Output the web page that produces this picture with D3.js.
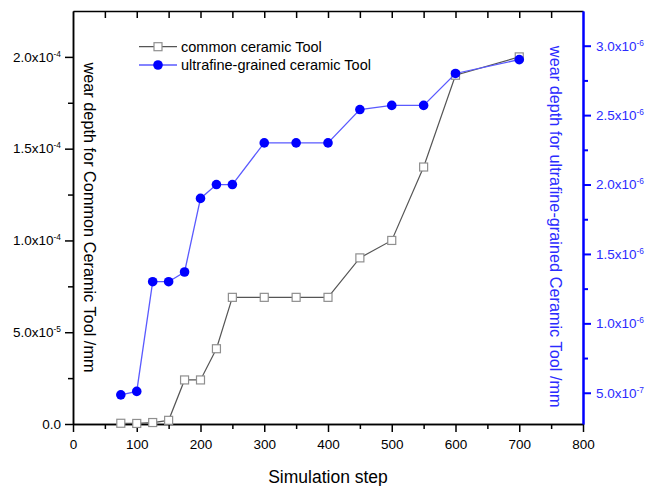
<!DOCTYPE html>
<html><head><meta charset="utf-8">
<script src="https://cdn.jsdelivr.net/npm/d3@7"></script>
<style>body{margin:0;background:#fff} text{font-family:"Liberation Sans",Arial,sans-serif}</style>
</head><body><svg id="c" width="661" height="486"></svg>
<script>
const steps = [75,100,125,150,175,200,225,250,300,350,400,450,500,550,600,700];
const commonWear = [0.4e-6,0.3e-6,0.8e-6,2.0e-6,2.4e-5,2.4e-5,4.1e-5,6.9e-5,6.9e-5,6.9e-5,6.9e-5,9.05e-5,1.0e-4,1.4e-4,1.9e-4,2.0e-4];
const ultrafineWear = [4.85e-7,5.1e-7,1.3e-6,1.3e-6,1.37e-6,1.9e-6,2.0e-6,2.0e-6,2.3e-6,2.3e-6,2.3e-6,2.54e-6,2.57e-6,2.57e-6,2.8e-6,2.9e-6];
const xTicks = [0,100,200,300,400,500,600,700,800];
const xMinor = [50,150,250,350,450,550,650,750];
const leftTicks = [0,5e-5,1e-4,1.5e-4,2e-4];
const leftTickLabels = ["0.0","5.0x10^-5","1.0x10^-4","1.5x10^-4","2.0x10^-4"];
const leftMinor = [2.5e-5,7.5e-5,1.25e-4,1.75e-4];
const rightTicks = [5e-7,1e-6,1.5e-6,2e-6,2.5e-6,3e-6];
const rightTickLabels = ["5.0x10^-7","1.0x10^-6","1.5x10^-6","2.0x10^-6","2.5x10^-6","3.0x10^-6"];
const rightMinor = [7.5e-7,1.25e-6,1.75e-6,2.25e-6,2.75e-6];
const seriesNames = ["common ceramic Tool","ultrafine-grained ceramic Tool"];
const xTitle = "Simulation step";
const leftTitle = "wear depth for Common Ceramic Tool /mm";
const rightTitle = "wear depth for ultrafine-grained Ceramic Tool /mm";

const L=73,R=583,T=11,B=424;
const svg = d3.select("#c");
svg.append("rect").attr("width",661).attr("height",486).attr("fill","#fff");
const x = d3.scaleLinear().domain([0,800]).range([L,R]);
const yL = d3.scaleLinear().domain([0,2.25e-4]).range([B,T]);
const yR = d3.scaleLinear().domain([2.75e-7,3.25e-6]).range([B,T]);

function style(g,color,w){
  g.selectAll("path,line").attr("stroke",color).attr("stroke-width",w);
  g.selectAll("text").attr("fill",color).attr("font-size","13.5px").attr("font-family",'"Liberation Sans",Arial,sans-serif');
}
function sup(g,labels){
  g.selectAll(".tick text").each(function(d,i){
    const t=d3.select(this); const p=labels[i].split("^");
    t.text(p[0]);
    if(p[1]) t.append("tspan").attr("dy","-0.6em").attr("font-size","0.62em").text(p[1]);
  });
}

// minor ticks
const gxm = svg.append("g").attr("transform",`translate(0,${B})`)
  .call(d3.axisBottom(x).tickValues(xMinor).tickSize(5).tickFormat("").tickSizeOuter(0));
style(gxm,"#000",1.5);
const gtop = svg.append("g").attr("transform",`translate(0,${T})`)
  .call(d3.axisTop(x).tickValues(xMinor.concat(xTicks.slice(1,-1))).tickSize(-7).tickFormat("").tickSizeOuter(0));
style(gtop,"#000",1.5);
const glm = svg.append("g").attr("transform",`translate(${L},0)`)
  .call(d3.axisLeft(yL).tickValues(leftMinor).tickSize(5).tickFormat("").tickSizeOuter(0));
style(glm,"#000",1.5);
const grm = svg.append("g").attr("transform",`translate(${R},0)`)
  .call(d3.axisRight(yR).tickValues(rightMinor).tickSize(5).tickFormat("").tickSizeOuter(0));
style(grm,"#0000ff",2);

// major axes
const gx = svg.append("g").attr("transform",`translate(0,${B})`)
  .call(d3.axisBottom(x).tickValues(xTicks).tickSize(8).tickPadding(7).tickFormat(d3.format("d")).tickSizeOuter(0));
style(gx,"#000",1.5);
const gl = svg.append("g").attr("transform",`translate(${L},0)`)
  .call(d3.axisLeft(yL).tickValues(leftTicks).tickSize(8).tickPadding(4).tickSizeOuter(0));
style(gl,"#000",1.5); sup(gl,leftTickLabels);
const gr = svg.append("g").attr("transform",`translate(${R},0)`)
  .call(d3.axisRight(yR).tickValues(rightTicks).tickSize(8).tickPadding(5).tickSizeOuter(0));
style(gr,"#0000ff",2); sup(gr,rightTickLabels);
gr.selectAll("text").attr("fill","#2b2bff");

// titles
svg.append("text").attr("x",(L+R)/2).attr("y",483).attr("text-anchor","middle")
  .attr("font-size","17.5px").attr("fill","#000").text(xTitle);
svg.append("text").attr("transform","translate(90,217.5) rotate(90)").attr("text-anchor","middle")
  .attr("dy","0.35em").attr("font-size","16.3px").attr("fill","#000").text(leftTitle);
svg.append("text").attr("transform","translate(556,226.7) rotate(90)").attr("text-anchor","middle")
  .attr("dy","0.35em").attr("font-size","16.3px").attr("fill","#2b2bff").text(rightTitle);

// series
const idx = d3.range(steps.length);
svg.append("path").attr("fill","none").attr("stroke","#555").attr("stroke-width",1.2)
  .attr("d",d3.line().x(i=>x(steps[i])).y(i=>yL(commonWear[i]))(idx));
svg.append("g").selectAll("rect").data(idx).join("rect")
  .attr("x",i=>x(steps[i])-4).attr("y",i=>yL(commonWear[i])-4).attr("width",8).attr("height",8)
  .attr("fill","#fff").attr("stroke","#8f8f8f").attr("stroke-width",1.2);
svg.append("path").attr("fill","none").attr("stroke","#5a5aff").attr("stroke-width",1.3)
  .attr("d",d3.line().x(i=>x(steps[i])).y(i=>yR(ultrafineWear[i]))(idx));
svg.append("g").selectAll("circle").data(idx).join("circle")
  .attr("cx",i=>x(steps[i])).attr("cy",i=>yR(ultrafineWear[i])).attr("r",4.8).attr("fill","#0000ff");

// legend
const lg = svg.append("g");
lg.append("line").attr("x1",139).attr("x2",177).attr("y1",46.7).attr("y2",46.7).attr("stroke","#555").attr("stroke-width",1.2);
lg.append("rect").attr("x",154).attr("y",42.7).attr("width",8).attr("height",8).attr("fill","#fff").attr("stroke","#8f8f8f").attr("stroke-width",1.2);
lg.append("line").attr("x1",139).attr("x2",177).attr("y1",65).attr("y2",65).attr("stroke","#5a5aff").attr("stroke-width",1.3);
lg.append("circle").attr("cx",158).attr("cy",65).attr("r",4.8).attr("fill","#0000ff");
lg.selectAll("text").data(seriesNames).join("text").attr("x",181).attr("y",(d,i)=>i?65:46.7).attr("dy","0.35em")
  .attr("font-size","14.5px").attr("fill","#000").text(d=>d);
</script></body></html>
